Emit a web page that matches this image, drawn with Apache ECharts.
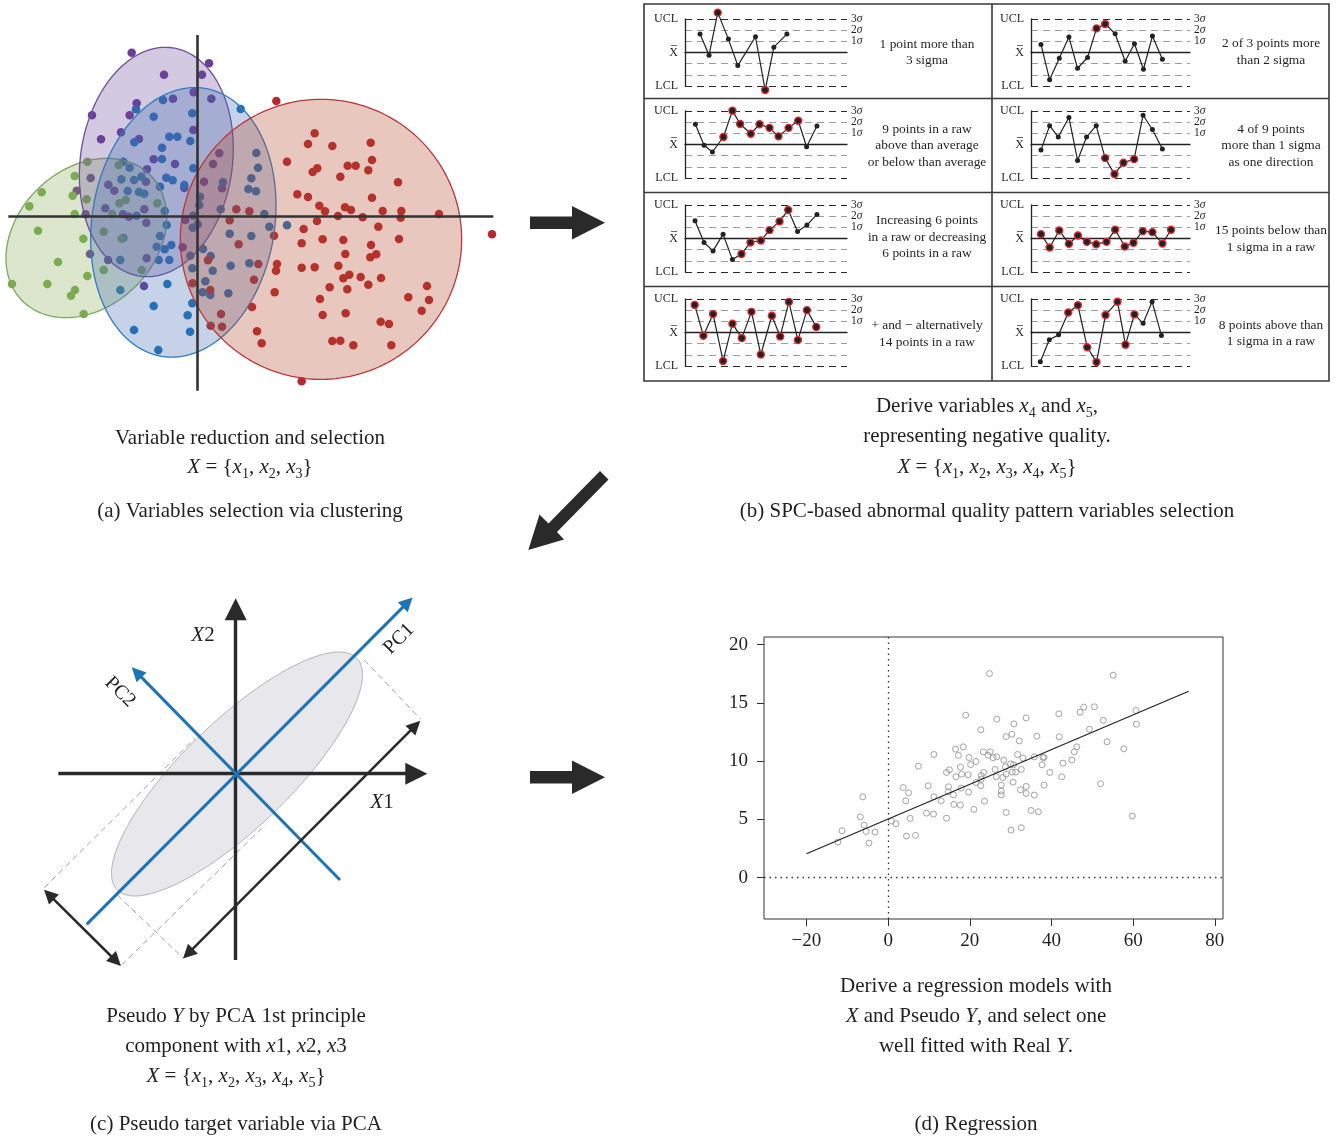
<!DOCTYPE html>
<html><head><meta charset="utf-8">
<script src="https://cdn.jsdelivr.net/npm/echarts@6/dist/echarts.min.js"></script>
<style>html,body{margin:0;padding:0;background:#fff}#c{width:1338px;height:1141px}</style>
</head><body><div id="c"></div>
<script>
// ---------- Panel (a): cluster points (panel units) ----------
const purplePts = [[395,38],[627,70],[492,104],[606,104],[410,190],[519,176],[634,176],[276,226],[389,226],[303,298],[363,277],[417,297],[580,270],[581,157],[461,358],[525,372],[441,388],[272,414],[325,434],[343,452],[230,452],[316,505],[257,523],[369,523],[387,530],[433,508],[439,548],[438,425],[270,642],[324,660],[440,655],[432,738],[548,622],[556,540],[612,425],[639,372],[658,340],[666,445],[553,444]];
const bluePts = [[489,180],[408,208],[461,230],[577,220],[722,207],[508,290],[532,290],[571,303],[403,307],[486,323],[486,357],[580,385],[389,383],[370,365],[402,420],[424,410],[499,413],[518,421],[480,440],[553,435],[383,453],[417,456],[433,461],[364,418],[410,527],[494,513],[500,555],[580,527],[600,470],[598,495],[480,588],[470,620],[494,628],[514,615],[508,660],[476,660],[361,660],[370,594],[361,750],[502,732],[461,798],[402,870],[475,930],[563,826],[570,875],[577,790],[571,647],[577,685],[609,627],[632,648],[638,692],[616,724],[608,757],[631,765],[685,760],[692,677],[748,670],[689,581],[754,588],[808,560],[861,556],[793,522],[662,508],[669,427],[745,447],[768,454],[754,415],[774,383],[769,339],[593,553],[578,563]];
const greenPts = [[262,365],[356,375],[224,408],[125,457],[88,499],[218,467],[224,522],[260,478],[358,490],[377,480],[472,490],[337,522],[114,572],[250,596],[311,575],[365,596],[174,666],[262,708],[311,690],[425,690],[36,732],[142,732],[225,750],[213,767],[251,822]];
const redPts = [[829,183],[944,280],[924,312],[997,318],[1112,308],[1116,360],[861,365],[952,385],[938,396],[1043,377],[1067,377],[1105,391],[1021,410],[1194,427],[892,463],[924,471],[1116,473],[958,497],[975,514],[1035,502],[1053,510],[1014,528],[1088,532],[1148,513],[1204,513],[1202,533],[1317,522],[1476,583],[709,508],[748,514],[689,541],[951,543],[911,567],[1135,560],[822,587],[968,598],[1030,600],[905,610],[1197,597],[1113,615],[716,613],[1036,642],[1111,652],[1129,643],[624,661],[775,672],[831,672],[828,692],[905,683],[944,682],[1015,677],[1048,704],[1030,715],[1082,711],[1143,714],[1105,734],[1281,738],[762,719],[578,730],[631,750],[824,757],[989,742],[1042,748],[960,777],[1225,772],[1287,780],[756,801],[1265,812],[663,822],[968,825],[1037,820],[1142,845],[1167,852],[632,857],[666,860],[771,874],[785,910],[997,903],[1021,902],[1060,916],[1174,916],[905,1024]];
// ellipses: [cx, cy, semiMajor, semiMinor, tiltDeg]  order: green, purple, blue, red
const clusterEllipses = [[259,594,269,207,46],[469,366,346,228,8],[550,547,407,274,9],[963,598,420,422,0]];
const clusterAxes = [[[25,530],[1480,530]],[[591,-15],[591,1052]]];

// ---------- Panel (b): SPC patterns (x position, value in sigma, highlighted flag) ----------
const spc1X = [180,207,233,265,293,346,375,401,440];
const spc1Y = [1.65,-0.24,3.57,1.2,-1.17,1.41,-3.36,0.48,1.65];
const spc1R = [0,0,1,0,0,0,1,0,0];
const spc2X = [152,178,207,236,262,292,319,345,375,405,433,460,487,517];
const spc2Y = [0.72,-2.43,-0.51,1.38,-1.41,-0.45,2.16,2.55,1.68,-0.78,0.78,-1.5,1.47,-0.6];
const spc2R = [0,0,0,0,0,0,1,1,0,0,0,0,0,0];
const spc3X = [166,192,217,250,277,300,332,358,388,415,445,474,499,530];
const spc3Y = [1.81,-0.06,-0.67,0.67,3.03,1.84,0.96,1.81,1.49,0.73,1.49,2.13,-0.2,1.66];
const spc3R = [0,0,0,1,1,1,1,1,1,1,1,1,0,0];
const spc4X = [152,178,204,236,262,289,318,345,373,400,432,459,487,517];
const spc4Y = [-0.5,1.69,0.67,2.42,-1.43,0.67,1.69,-1.22,-2.65,-1.63,-1.31,2.62,1.34,-0.41];
const spc4R = [0,0,0,0,0,0,0,1,1,1,1,0,0,0];
const spc5X = [165,192,219,249,277,304,331,362,388,418,444,472,500,530];
const spc5Y = [1.59,-0.36,-1.11,0.39,-1.89,-1.38,-0.36,-0.18,0.75,1.53,2.55,0.63,1.2,2.16];
const spc5R = [0,0,0,0,0,1,1,1,1,1,1,0,0,0];
const spc6X = [152,178,207,236,263,290,318,349,375,404,430,458,487,517,543];
const spc6Y = [0.39,-0.81,0.72,-0.48,0.27,-0.3,-0.51,-0.3,0.78,-0.72,-0.39,0.66,0.57,-0.45,0.78];
const spc6R = [1,1,1,1,1,1,1,1,1,1,1,1,1,1,1];
const spc7X = [164,190,219,249,277,305,334,362,395,420,446,473,500,528];
const spc7Y = [2.47,-0.29,1.65,-2.56,0.79,-0.5,1.85,-1.97,1.5,-0.35,2.74,-0.68,2.0,0.5];
const spc7R = [1,1,1,1,1,1,1,1,1,1,1,1,1,1];
const spc8X = [150,177,205,234,263,291,319,346,382,406,433,459,486,514];
const spc8Y = [-2.62,-0.65,-0.21,1.79,2.44,-1.32,-2.65,1.56,2.76,-1.09,1.62,0.82,2.76,-0.26];
const spc8R = [0,0,0,1,1,1,1,1,1,1,1,0,0,0];
const spcText = [
  '1 point more than\n3 sigma',
  '2 of 3 points more\nthan 2 sigma',
  '9 points in a raw\nabove than average\nor below than average',
  '4 of 9 points\nmore than 1 sigma\nas one direction',
  'Increasing 6 points\nin a raw or decreasing\n6 points in a raw',
  '15 points below than\n1 sigma in a raw',
  '+ and \u2212 alternatively\n14 points in a raw',
  '8 points above than\n1 sigma in a raw'
];
const sigmaLevels = ['-3','-2','-1','0','1','2','3'];
const sigmaLeftLabels = {'3':'UCL','0':'X\u0305','-3':'LCL'};
const sigmaRightLabels = {'3':'3','2':'2','1':'1'};

// ---------- Panel (c): PCA diagram (panel units) ----------
const pcaEllipse = [[621,552,500,160,46]];
const pcaAxes = [[[85,551],[1159,551]],[[617,1110],[617,58]]];
const pcaComponents = [[[170,1003],[1133,37]],[[930,870],[320,247]]];
const pcaSpans = [[[474,1091],[1156,407]],[[57,914],[258,1113]]];
const pcaDashed = [[[43,893],[495,445]],[[275,1125],[705,705]],[[262,915],[460,1105]],[[1003,210],[1172,388]]];

// ---------- Panel (d): regression ----------
const regX = [-12.3,-11.3,-6.2,-6.8,-5.9,-5.4,-4.7,-3.2,0.8,1.9,3.7,5.0,4.3,5.4,4.5,6.7,7.4,9.8,11.2,11.2,9.4,11.1,13.0,14.3,14.3,15.0,14.8,14.7,16.5,17.2,18.4,19.0,17.7,16.6,18.0,16.0,17.9,16.1,17.7,19.8,20.2,21.5,19.6,19.7,21.0,21.5,22.7,22.8,22.8,23.4,22.7,23.6,23.3,24.5,25.0,25.7,24.8,26.6,26.2,26.5,26.6,27.7,27.7,27.7,28.3,28.9,28.7,28.9,28.1,28.9,30.1,30.3,30.8,30.0,30.7,30.4,31.2,30.6,32.1,31.7,33.0,32.6,32.4,33.8,33.8,32.6,33.8,35.0,35.8,36.4,35.8,36.8,37.7,37.9,38.2,38.2,39.6,41.8,41.9,42.8,42.5,45.0,45.6,46.2,47.0,47.9,49.3,50.5,52.0,52.7,53.6,55.1,57.7,59.8,60.7,60.8];
const regY = [3.06,4.03,6.94,5.23,4.51,3.97,2.97,3.91,4.86,4.63,7.74,7.29,6.6,5.09,3.57,3.63,9.57,7.89,10.57,6.94,5.54,5.46,6.6,5.11,9.03,9.26,7.8,7.37,11.03,10.49,11.23,13.94,9.49,8.66,8.89,7.11,7.69,6.29,6.23,10.31,9.71,9.97,8.83,7.34,5.86,8.17,12.69,8.77,8.46,9.03,7.89,6.57,10.8,10.51,10.8,10.29,17.51,10.37,9.29,8.66,13.6,7.94,7.43,7.11,10.09,12.11,9.51,8.89,8.6,5.6,4.09,12.31,13.2,9.77,9.69,9.06,9.06,8.2,11.74,10.57,10.26,9.29,7.54,7.83,7.23,4.29,13.71,5.77,10.37,12.14,7.09,5.66,9.69,10.34,10.31,7.94,9.03,14.06,12.09,9.83,8.66,10.09,10.8,11.23,14.2,14.63,12.74,14.66,8.06,13.51,11.66,17.37,11.06,5.29,14.34,13.17];
const regLine = [[-20,2.06],[73.6,16.0]];
const regXTicks = [-20,0,20,40,60,80];
const regYTicks = [0,5,10,15,20];

// ---------- Captions ----------
const captionA = ['Variable reduction and selection','{i|X} = {{i|x}{s|1}, {i|x}{s|2}, {i|x}{s|3}}','(a) Variables selection via clustering'];
const captionB = ['Derive variables {i|x}{s|4} and {i|x}{s|5},','representing negative quality.','{i|X} = {{i|x}{s|1}, {i|x}{s|2}, {i|x}{s|3}, {i|x}{s|4}, {i|x}{s|5}}','(b) SPC-based abnormal quality pattern variables selection'];
const captionC = ['Pseudo {i|Y} by PCA 1st principle','component with {i|x}1, {i|x}2, {i|x}3','{i|X} = {{i|x}{s|1}, {i|x}{s|2}, {i|x}{s|3}, {i|x}{s|4}, {i|x}{s|5}}','(c) Pseudo target variable via PCA'];
const captionD = ['Derive a regression models with','{i|X} and Pseudo {i|Y}, and select one','well fitted with Real {i|Y}.','(d) Regression'];

// =====================================================================
const FONT = "'Liberation Serif','Times New Roman',serif";
const INK = '#231f20';
const CAP = 21;
const chart = echarts.init(document.getElementById('c'), null, {renderer:'canvas'});

const richCap = {
  i:{fontFamily:FONT,fontSize:CAP,fontStyle:'italic',fill:INK,color:INK,lineHeight:28},
  s:{fontFamily:FONT,fontSize:14,fill:INK,color:INK,verticalAlign:'bottom',lineHeight:17}
};
function textEl(x,y,text,size){
  return {type:'text',x:x,y:y,z:20,silent:true,style:{text:text,fontFamily:FONT,fontSize:size,fill:INK,
    textAlign:'center',align:'center',textVerticalAlign:'middle',verticalAlign:'middle',lineHeight:28,rich:richCap}};
}

const grids = [
  {left:0,top:30,width:500,height:370},
  {left:30,top:590,width:420,height:390},
  {left:764,top:637,width:459,height:282,show:true,borderColor:'#333',borderWidth:1,backgroundColor:'transparent'}
];
const xAxes = [
  {gridIndex:0,type:'value',min:0,max:1500,show:false},
  {gridIndex:1,type:'value',min:0,max:1260,show:false},
  {gridIndex:2,type:'value',min:-30.4,max:82,position:'bottom',axisLine:{show:false,onZero:false},splitLine:{show:false},
   axisTick:{show:true,length:7,customValues:regXTicks,lineStyle:{color:'#333',width:1}},
   axisLabel:{customValues:regXTicks,fontFamily:FONT,fontSize:19,color:INK,margin:13,
     formatter:v=> v<0 ? '\u2212'+Math.abs(v) : String(v)}}
];
const yAxes = [
  {gridIndex:0,type:'value',min:-30,max:1080,inverse:true,show:false},
  {gridIndex:1,type:'value',min:0,max:1170,inverse:true,show:false},
  {gridIndex:2,type:'value',min:-3.54,max:20.65,position:'left',axisLine:{show:false,onZero:false},splitLine:{show:false},
   axisTick:{show:true,length:7,customValues:regYTicks,lineStyle:{color:'#333',width:1}},
   axisLabel:{customValues:regYTicks,fontFamily:FONT,fontSize:19,color:INK,margin:16}}
];
const series = [];

// Panel (a)
[[purplePts,'#6a3d96'],[bluePts,'#1d71b8'],[greenPts,'#78ab50'],[redPts,'#b7282e']].forEach(function(p){
  series.push({type:'scatter',xAxisIndex:0,yAxisIndex:0,data:p[0],symbolSize:8.5,itemStyle:{color:p[1],opacity:1},z:2,silent:true});
});
const ellFill = ['rgba(135,172,85,0.30)','rgba(108,78,155,0.30)','rgba(62,105,178,0.30)','rgba(180,72,40,0.30)'];
const ellStroke = ['#7fa75c','#6e4f9b','#2f7bbd','#b8383b'];
function ellipseRender(fills,strokes,lw){
  return function(params,api){
    const cx=api.value(0),cy=api.value(1),a=api.value(2),b=api.value(3),ph=api.value(4)*Math.PI/180;
    const dx=Math.sin(ph),dy=-Math.cos(ph),nx=Math.cos(ph),ny=Math.sin(ph);
    const pts=[];
    for(let k=0;k<180;k++){
      const t=k/180*2*Math.PI;
      pts.push(api.coord([cx+a*Math.cos(t)*dx+b*Math.sin(t)*nx, cy+a*Math.cos(t)*dy+b*Math.sin(t)*ny]));
    }
    return {type:'polygon',shape:{points:pts},style:{fill:fills[params.dataIndex],stroke:strokes[params.dataIndex],lineWidth:lw}};
  };
}
series.push({type:'custom',xAxisIndex:0,yAxisIndex:0,data:clusterEllipses,encode:{x:0,y:1},clip:false,silent:true,z:3,
  renderItem:ellipseRender(ellFill,ellStroke,1.3)});
series.push({type:'lines',coordinateSystem:'cartesian2d',xAxisIndex:0,yAxisIndex:0,silent:true,z:4,
  data:clusterAxes.map(c=>({coords:c})),symbol:'none',lineStyle:{color:'#333',width:2.6,opacity:1}});

// Panel (c)
series.push({type:'custom',xAxisIndex:1,yAxisIndex:1,data:pcaEllipse,encode:{x:0,y:1},clip:false,silent:true,z:1,
  renderItem:ellipseRender(['#e8e8ec'],['#b4b4b8'],1)});
series.push({type:'lines',coordinateSystem:'cartesian2d',xAxisIndex:1,yAxisIndex:1,silent:true,z:2,
  data:pcaDashed.map(c=>({coords:c})),symbol:'none',lineStyle:{color:'#a0a0a4',width:1,type:[6,4],opacity:1}});
series.push({type:'lines',coordinateSystem:'cartesian2d',xAxisIndex:1,yAxisIndex:1,silent:true,z:3,
  data:pcaAxes.map(c=>({coords:c})),symbol:['none','triangle'],symbolSize:[21,22],lineStyle:{color:'#2b2a2b',width:3.4,opacity:1}});
series.push({type:'lines',coordinateSystem:'cartesian2d',xAxisIndex:1,yAxisIndex:1,silent:true,z:4,
  data:pcaComponents.map(c=>({coords:c})),symbol:['none','triangle'],symbolSize:[14,14],lineStyle:{color:'#1f74b6',width:3,opacity:1}});
series.push({type:'lines',coordinateSystem:'cartesian2d',xAxisIndex:1,yAxisIndex:1,silent:true,z:5,
  data:pcaSpans.map(c=>({coords:c})),symbol:['triangle','triangle'],symbolSize:[14,14],lineStyle:{color:'#2b2a2b',width:2.5,opacity:1}});

// Panel (d)
series.push({type:'scatter',xAxisIndex:2,yAxisIndex:2,data:regX.map((x,i)=>[x,regY[i]]),symbol:'circle',symbolSize:6,silent:true,z:3,
  itemStyle:{color:'rgba(255,255,255,0)',borderColor:'#8c8c8c',borderWidth:1},
  markLine:{silent:true,symbol:'none',label:{show:false},lineStyle:{type:[1.5,4],color:'#333',width:1.3},data:[{xAxis:0},{yAxis:0}]}});
series.push({type:'line',xAxisIndex:2,yAxisIndex:2,data:regLine,symbol:'none',silent:true,z:4,lineStyle:{color:'#222',width:1.2}});

// Panel (b) SPC grids
const spcSets = [[spc1X,spc1Y,spc1R],[spc2X,spc2Y,spc2R],[spc3X,spc3Y,spc3R],[spc4X,spc4Y,spc4R],
                 [spc5X,spc5Y,spc5R],[spc6X,spc6Y,spc6R],[spc7X,spc7Y,spc7R],[spc8X,spc8Y,spc8R]];
const spcCells = [[0,0],[1,0],[0,1],[1,1],[0,2],[1,2],[0,3],[1,3]];
const colGeom = [{left:685,width:162,min:135,max:620,textX:927},{left:1031,width:159,min:122,max:600,textX:1271}];
const rowTop = [19,111,205,299];
const textY = [[52.3,51.9],[145.5,145.5],[237.3,239],[334,333.5]];
const graphics = [];
spcSets.forEach(function(s,k){
  const col=spcCells[k][0],row=spcCells[k][1],g=colGeom[col];
  const gi = grids.length;
  grids.push({left:g.left,top:rowTop[row],width:g.width,height:67});
  const xi = xAxes.length;
  xAxes.push({gridIndex:gi,type:'value',min:g.min,max:g.max,axisLine:{show:true,onZero:true,lineStyle:{color:'#222',width:1.3}},
    axisTick:{show:false},axisLabel:{show:false},splitLine:{show:false}});
  const yi = yAxes.length;
  yAxes.push({gridIndex:gi,type:'value',min:-3,max:3,interval:1,axisLine:{show:true,lineStyle:{color:'#222',width:1.3}},
    axisTick:{show:false},
    axisLabel:{fontFamily:FONT,fontSize:12,color:INK,margin:7,showMaxLabel:true,showMinLabel:true,hideOverlap:false,
      formatter:v=>sigmaLeftLabels[String(v)]||''},
    splitLine:{show:true,lineStyle:{color:['#2a2a2a','#9c9c9c','#9c9c9c','rgba(0,0,0,0)','#9c9c9c','#9c9c9c','#2a2a2a'],type:[7,5],width:1.2}}});
  yAxes.push({gridIndex:gi,type:'category',data:sigmaLevels,boundaryGap:false,position:'right',axisLine:{show:false},axisTick:{show:false},splitLine:{show:false},
    axisLabel:{interval:0,fontFamily:FONT,fontSize:11.5,color:INK,margin:4,hideOverlap:false,
      formatter:v=> sigmaRightLabels[v] ? sigmaRightLabels[v]+'{i|\u03c3}' : '',
      rich:{i:{fontFamily:FONT,fontSize:11.5,fontStyle:'italic',color:INK}}}});
  const pts = s[0].map((x,i)=>[x,s[1][i]]);
  series.push({type:'line',xAxisIndex:xi,yAxisIndex:yi,data:pts,clip:false,silent:true,z:3,symbol:'circle',symbolSize:5,showAllSymbol:true,
    itemStyle:{color:'#222'},lineStyle:{color:'#222',width:1.2}});
  series.push({type:'scatter',xAxisIndex:xi,yAxisIndex:yi,data:pts.filter((p,i)=>s[2][i]===1),clip:false,silent:true,z:4,symbol:'circle',symbolSize:7,
    itemStyle:{color:'#222',borderColor:'#e3282d',borderWidth:1.4,opacity:1}});
  graphics.push({type:'text',x:g.textX,y:textY[row][col],z:20,silent:true,style:{text:spcText[k],fontFamily:FONT,fontSize:13.4,fill:INK,
    textAlign:'center',align:'center',textVerticalAlign:'middle',verticalAlign:'middle',lineHeight:16.5}});
});

// frame of panel (b)
graphics.push({type:'rect',z:1,silent:true,shape:{x:644,y:4,width:685,height:377},style:{fill:'none',stroke:'#3a3a3a',lineWidth:1.6}});
graphics.push({type:'line',z:1,silent:true,shape:{x1:992,y1:4,x2:992,y2:381},style:{stroke:'#3a3a3a',lineWidth:1.6}});
[98.5,192.5,286.5].forEach(y=>graphics.push({type:'line',z:1,silent:true,shape:{x1:644,y1:y,x2:1329,y2:y},style:{stroke:'#3a3a3a',lineWidth:1.6}}));

// flow arrows
const arrowInk = '#2b2a2b';
graphics.push({type:'polygon',silent:true,shape:{points:[[530,216.5],[572,216.5],[572,206],[605,222.7],[572,239.4],[572,229],[530,229]]},style:{fill:arrowInk}});
graphics.push({type:'polygon',silent:true,shape:{points:[[530,771],[572,771],[572,760.5],[605,777.2],[572,794],[572,783.5],[530,783.5]]},style:{fill:arrowInk}});
graphics.push({type:'polygon',silent:true,shape:{points:[[600,471],[608.5,479.5],[557,532],[564,539.5],[528.3,550],[539.5,514.5],[548.5,523.5]]},style:{fill:arrowInk}});

// PCA labels
const richAx = {i:{fontFamily:FONT,fontSize:21,fontStyle:'italic',fill:INK},n:{fontFamily:FONT,fontSize:21,fill:INK}};
graphics.push({type:'text',x:203,y:635,z:20,silent:true,style:{text:'{i|X}{n|2}',rich:richAx,fontFamily:FONT,fontSize:21,fill:INK,textAlign:'center',align:'center',textVerticalAlign:'middle',verticalAlign:'middle'}});
graphics.push({type:'text',x:382,y:802,z:20,silent:true,style:{text:'{i|X}{n|1}',rich:richAx,fontFamily:FONT,fontSize:21,fill:INK,textAlign:'center',align:'center',textVerticalAlign:'middle',verticalAlign:'middle'}});
graphics.push({type:'text',x:399,y:639,rotation:Math.PI/4,z:20,silent:true,style:{text:'PC1',fontFamily:FONT,fontSize:20,fill:INK,textAlign:'center',align:'center',textVerticalAlign:'middle',verticalAlign:'middle'}});
graphics.push({type:'text',x:120,y:692,rotation:-Math.PI/4,z:20,silent:true,style:{text:'PC2',fontFamily:FONT,fontSize:20,fill:INK,textAlign:'center',align:'center',textVerticalAlign:'middle',verticalAlign:'middle'}});

// captions
[438,467,511].forEach((y,i)=>graphics.push(textEl(250,y,captionA[i],CAP)));
[406,436,467,511].forEach((y,i)=>graphics.push(textEl(987,y,captionB[i],CAP)));
[1016,1046,1076,1124].forEach((y,i)=>graphics.push(textEl(236,y,captionC[i],CAP)));
[986,1016,1046,1124].forEach((y,i)=>graphics.push(textEl(976,y,captionD[i],CAP)));

chart.setOption({
  animation:false,
  backgroundColor:'#ffffff',
  grid:grids, xAxis:xAxes, yAxis:yAxes, series:series,
  graphic:{elements:graphics}
});
</script></body></html>
